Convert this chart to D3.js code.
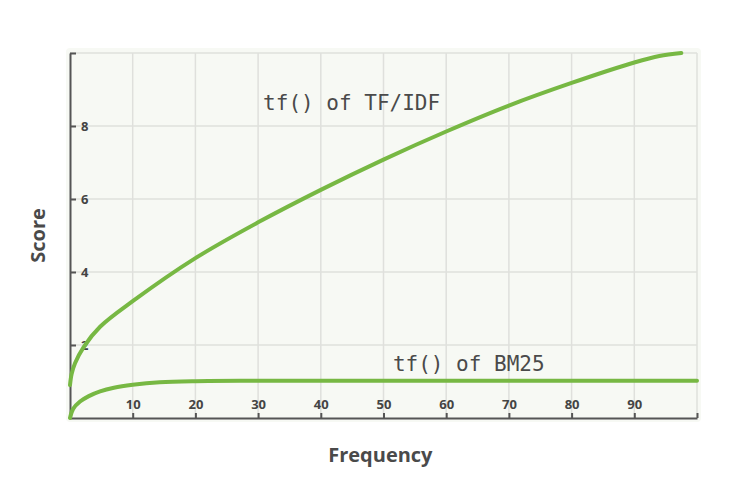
<html>
<head>
  <title>tf() of TF/IDF vs BM25</title>
  <script src="https://d3js.org/d3.v7.min.js"></script>
  <style>
    body { margin: 0; background: #fff; }
    .grid line { stroke: #dfe0dc; stroke-width: 1.5px; }
    .axis path, .axis line { stroke: #555; stroke-width: 2px; }
    .axis text { font-family: "Open Sans", sans-serif; font-weight: bold; font-size: 13px; fill: #444; }
    .title { font-family: "Open Sans", sans-serif; font-weight: bold; font-size: 20px; fill: #4a4a4a; }
    .curve { fill: none; stroke: #77b843; stroke-width: 4px; stroke-linecap: round; }
    .label { font-family: "DejaVu Sans Mono", monospace; font-size: 21px; fill: #4a4a4a; }
  </style>
</head>
<body>
  <svg id="screen"></svg>

  <script>
    // points: [frequency, score]
    const tfidf = [[0, 0.9], [0.25, 1.2], [0.8, 1.5], [2.2, 1.95], [4.8, 2.5],
                   [10, 3.2], [20, 4.38], [30, 5.36], [40, 6.25], [50, 7.08], [60, 7.85],
                   [70, 8.56], [80, 9.18], [90, 9.74], [94, 9.92], [97.5, 10.0]]
    const bm25 = [[0, 0], [0.5, 0.25], [1.6, 0.45], [3, 0.6], [4.8, 0.73], [7, 0.83],
                  [10, 0.91], [14.3, 0.98], [20, 1.01], [30, 1.02], [100, 1.02]]
    const xTicks = [10, 20, 30, 40, 50, 60, 70, 80, 90]
    const yTicks = [2, 4, 6, 8]
    const labels = [{text: "tf() of TF/IDF", at: [30.8, 8.45]}, {text: "tf() of BM25", at: [51.5, 1.3]}]

    let svg = {width: 750, height: 496}
    let margin = {top: 53, bottom: 78, left: 70, right: 53}

    let frame = d3.select('#screen')
      .attr("width", svg.width)
      .attr("height", svg.height)

    let x = d3.scaleLinear().domain([0, 100]).range([margin.left, svg.width - margin.right])
    let y = d3.scaleLinear().domain([0, 10]).range([svg.height - margin.bottom, margin.top])

    // plot background
    frame.append("rect")
      .attr("x", x(0) - 4).attr("y", y(10) - 5)
      .attr("width", x(100) - x(0) + 8).attr("height", y(0) - y(10) + 9)
      .attr("rx", 4)
      .attr("fill", "#f7f9f4")

    // grid
    let grid = frame.append("g").attr("class", "grid")
    grid.selectAll(".v").data(d3.range(10, 101, 10)).enter()
      .append("line")
      .attr("x1", d => x(d)).attr("x2", d => x(d))
      .attr("y1", y(0)).attr("y2", y(10))
    grid.selectAll(".h").data(d3.range(2, 11, 2)).enter()
      .append("line")
      .attr("x1", x(0)).attr("x2", x(100))
      .attr("y1", d => y(d)).attr("y2", d => y(d))

    // axes, ticks point inward, labels inside the plot
    let xAxis = frame.append("g").attr("class", "axis")
      .attr("transform", "translate(0," + y(0) + ")")
      .call(d3.axisBottom(x).tickValues(xTicks.concat([100])).tickSizeInner(-5).tickSizeOuter(0))
    xAxis.selectAll("text")
      .attr("y", -9)
      .attr("dy", "0")
      .text(d => xTicks.includes(d) ? d : "")

    let yAxis = frame.append("g").attr("class", "axis")
      .attr("transform", "translate(" + x(0) + ",0)")
      .call(d3.axisLeft(y).tickValues(yTicks.concat([10])).tickSizeInner(-6).tickSizeOuter(0))
    yAxis.selectAll("text")
      .attr("x", 11)
      .attr("text-anchor", "start")
      .text(d => yTicks.includes(d) ? d : "")

    // curves
    let line = d3.line()
      .x(d => x(d[0]))
      .y(d => y(d[1]))
      .curve(d3.curveCatmullRom.alpha(0.5))

    frame.append("path").attr("class", "curve").attr("d", line(tfidf))
    frame.append("path").attr("class", "curve").attr("d", line(bm25))

    frame.selectAll(".label").data(labels).enter()
      .append("text")
      .attr("class", "label")
      .attr("x", d => x(d.at[0]))
      .attr("y", d => y(d.at[1]))
      .text(d => d.text)

    // axis titles
    frame.append("text").attr("class", "title")
      .attr("text-anchor", "middle")
      .attr("x", x(49.5)).attr("y", 462)
      .text("Frequency")

    frame.append("text").attr("class", "title")
      .attr("text-anchor", "middle")
      .attr("transform", "translate(45," + y(5) + ") rotate(-90)")
      .text("Score")
  </script>
</body>
</html>
